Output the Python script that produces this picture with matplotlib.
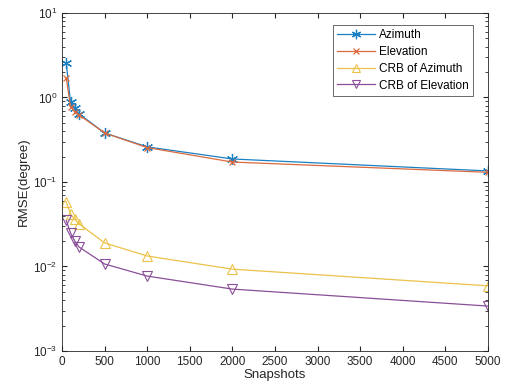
import matplotlib
matplotlib.use("Agg")
import matplotlib.pyplot as plt
from matplotlib.ticker import LogLocator, NullFormatter

plt.rcParams['font.family'] = ['Liberation Sans', 'DejaVu Sans']

snapshots = [50, 100, 150, 200, 500, 1000, 2000, 5000]
azimuth = [2.56, 0.88, 0.75, 0.64, 0.38, 0.26, 0.187, 0.135]
elevation = [1.7, 0.78, 0.68, 0.62, 0.38, 0.255, 0.172, 0.13]
crb_azimuth = [0.058, 0.042, 0.036, 0.032, 0.019, 0.0133, 0.0093, 0.0059]
crb_elevation = [0.035, 0.025, 0.020, 0.017, 0.0107, 0.0077, 0.0054, 0.0034]

colors = ['#1a80c4', '#db6a3e', '#ecc24a', '#8a4f98']

fig = plt.figure(figsize=(5.06, 3.91), dpi=100)
ax = fig.add_axes([0.1225, 0.1023, 0.8419, 0.8647])

ax.semilogy(snapshots, azimuth, '-', marker=(6, 2, 0), color=colors[0], lw=0.9,
            ms=8, mew=0.9, label='Azimuth')
ax.semilogy(snapshots, elevation, '-x', color=colors[1], lw=0.9, ms=5, mew=0.9,
            label='Elevation')
ax.semilogy(snapshots, crb_azimuth, '-^', color=colors[2], lw=0.9, ms=7,
            mfc='none', mew=0.8, label='CRB of Azimuth')
ax.semilogy(snapshots, crb_elevation, '-v', color=colors[3], lw=0.9, ms=7,
            mfc='none', mew=0.8, label='CRB of Elevation')

ax.set_xlim(0, 5000)
ax.set_ylim(1e-3, 1e1)
ax.set_xticks(range(0, 5001, 500))
ax.yaxis.set_minor_locator(LogLocator(base=10, subs=range(2, 10)))
ax.yaxis.set_minor_formatter(NullFormatter())
ax.tick_params(which='both', direction='in', top=True, right=True,
               labelsize=8.5, color='#262626', labelcolor='#262626')
ax.tick_params(which='major', length=3.5)
ax.tick_params(which='minor', length=2)
for s in ax.spines.values():
    s.set_color('#262626')
    s.set_linewidth(0.6)

ax.set_xlabel('Snapshots', fontsize=9.5, color='#262626', labelpad=1)
ax.set_ylabel('RMSE(degree)', fontsize=9.5, color='#262626', labelpad=2)

leg = ax.legend(loc='upper right', bbox_to_anchor=(0.965, 0.965), fontsize=8.5,
                frameon=True, fancybox=False, edgecolor='#262626',
                borderaxespad=0, handlelength=3.2, labelspacing=0.4,
                borderpad=0.4, handletextpad=0.3, markerscale=0.85)
leg.get_frame().set_linewidth(0.6)

fig.savefig('out.png', dpi=100)
